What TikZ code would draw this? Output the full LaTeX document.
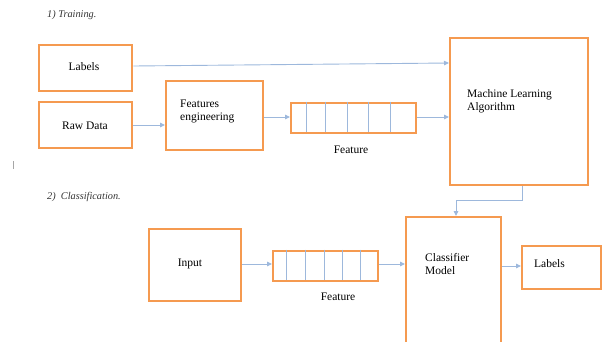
\documentclass[tikz,border=0pt]{standalone}
\usepackage{fontspec}
\setmainfont{Liberation Serif}
\usetikzlibrary{arrows.meta}
\definecolor{boxorange}{HTML}{F59A50}
\definecolor{arrowblue}{HTML}{9DB8DC}
\begin{document}
\begin{tikzpicture}[x=1pt,y=-1pt,
  box/.style={draw=boxorange,line width=2.3pt,rectangle,anchor=north west,inner sep=0pt},
  txt/.style={font=\fontsize{11.5}{13}\selectfont,inner sep=0pt,align=left},
  head/.style={font=\fontsize{10.3}{12}\selectfont\itshape,text=black!80,inner sep=0pt,anchor=west},
  arr/.style={draw=arrowblue,line width=0.9pt,-{Triangle[length=5pt,width=4.5pt]}},
  div/.style={draw=arrowblue,line width=0.9pt}]
\useasboundingbox (0,0) rectangle (602,341);
\clip (0,0) rectangle (602,341);

% headings
\node[head] (h1) at (47,15) {1) Training.};
\node[head] (h2) at (47,197) {2)\ \ Classification.};
\draw[black!35,line width=0.8pt] (13,161) -- (13,169);

% training boxes
\node[box,minimum width=93pt,minimum height=46pt] (lab) at (38,44) {};
\node[txt] (labt) at (84,67) {Labels};
\node[box,minimum width=93pt,minimum height=46pt] (raw) at (38,101) {};
\node[txt] (rawt) at (85,126) {Raw Data};
\node[box,minimum width=97pt,minimum height=69pt] (fe) at (165,80) {};
\node[txt,anchor=west] (fet) at (180,111) {Features\\engineering};
\node[box,minimum width=125pt,minimum height=30pt,line width=2pt] (arr1) at (290,101.5) {};
\foreach \x in {306,325,347,368,390} \draw[div] (\x,101.5) -- (\x,131.5);
\node[txt] (f1) at (351,150) {Feature};
\node[box,minimum width=138pt,minimum height=147pt] (ml) at (449,37) {};
\node[txt,anchor=west] (mlt) at (467,101) {Machine Learning\\Algorithm};

% classification boxes
\node[box,minimum width=92pt,minimum height=72pt] (inp) at (148,228) {};
\node[txt] (inpt) at (190,264) {Input};
\node[box,minimum width=105pt,minimum height=30pt,line width=2pt] (arr2) at (272,249.5) {};
\foreach \x in {286,305,324,342,360} \draw[div] (\x,249.5) -- (\x,279.5);
\node[txt] (f2) at (338,297) {Feature};
\node[box,minimum width=95pt,minimum height=140pt] (cls) at (405,216) {};
\node[txt,anchor=west] (clst) at (425,264) {Classifier\\Model};
\node[box,minimum width=79pt,minimum height=43pt] (lab2) at (521,245) {};
\node[txt,anchor=west] (lab2t) at (534,264) {Labels};

% connectors
\draw[arr] (lab.east |- 0,66) -- (ml.west |- 0,63);
\draw[arr] (raw.east |- 0,125) -- (fe.west |- 0,125);
\draw[arr] (fe.east |- 0,117) -- (arr1.west |- 0,117);
\draw[arr] (arr1.east |- 0,117) -- (ml.west |- 0,117);
\coordinate (m1) at (522,200);
\coordinate (m2) at (456,200);
\draw[arr] (ml.south -| m1) -- (m1) -- (m2) -- (cls.north -| m2);
\draw[arr] (inp.east |- 0,264) -- (arr2.west |- 0,264);
\draw[arr] (arr2.east |- 0,264) -- (cls.west |- 0,264);
\draw[arr] (cls.east |- 0,266) -- (lab2.west |- 0,266);
\end{tikzpicture}
\end{document}
